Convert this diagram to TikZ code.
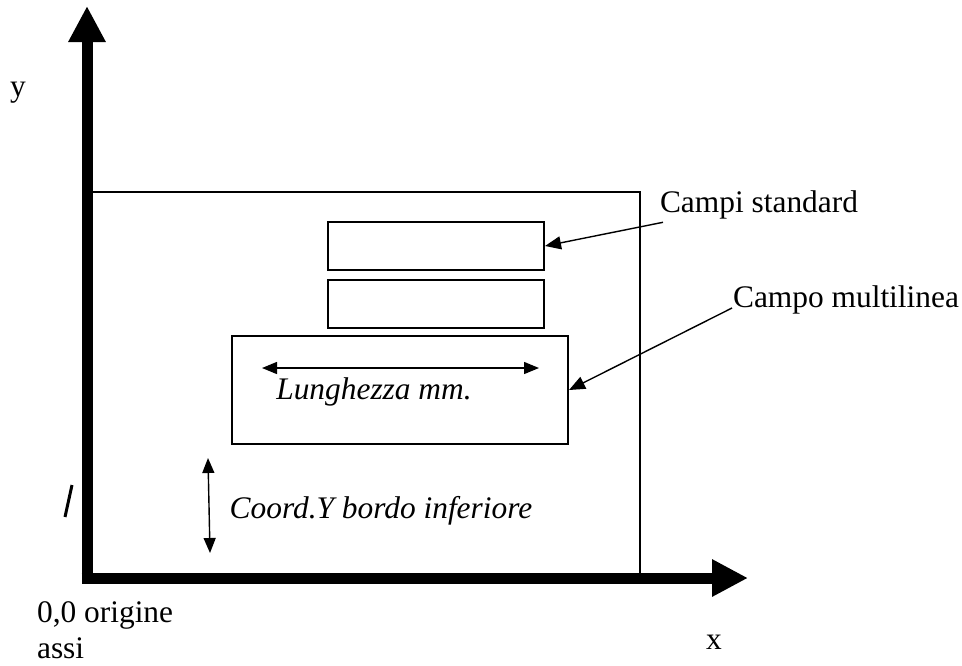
\documentclass[tikz,border=0pt]{standalone}
\usepackage{fontspec}
\setmainfont{Liberation Serif}
\usetikzlibrary{arrows.meta}

\begin{document}
\begin{tikzpicture}[x=0.5pt, y=-0.5pt, font=\fontsize{15.7}{18}\selectfont]
	\tikzstyle{asse} = [line width=5.5pt, -{Triangle[length=18pt, width=17.5pt]}]
	\tikzstyle{campo} = [draw=black, line width=1pt, inner sep=0pt]
	\tikzstyle{quota} = [line width=0.7pt, {Triangle[length=7.5pt, width=6pt]}-{Triangle[length=7.5pt, width=6pt]}]
	\tikzstyle{freccia} = [line width=0.7pt, -{Triangle[length=8pt, width=6.5pt]}]
	\useasboundingbox (0,0) rectangle (962,665);
	% assi
		\coordinate (o) at (87,578);
		\coordinate (ytip) at (87,6);
		\coordinate (xtip) at (748,578);
	\draw [asse] ([yshift=-2.75pt]o) -- (ytip);
	\draw [asse] ([xshift=-2.75pt]o) -- (xtip);
		\node (y) at (18,93) {y};
		\node (x) at (714,642) {x};
		\node [align=left, anchor=west] (orig) at (30,630) {0,0 origine\\assi};
	\draw [line width=1.5pt] (65,517) -- (72,485);
	% modulo e campi
		\node [campo, minimum width=274pt, minimum height=193pt] (mod) at (366,385) {};
		\node [campo, minimum width=108pt, minimum height=24pt] (std1) at (436,246) {};
		\node [campo, minimum width=108pt, minimum height=24pt] (std2) at (436,304) {};
		\node [campo, minimum width=168pt, minimum height=54pt] (ml) at (400,390) {};
	% quote
		\coordinate (l1) at (262,368);
		\coordinate (l2) at (539,368);
	\draw [quota] (l1) -- (l2);
		\node (lung) at (374,392) {\itshape Lunghezza mm.};
		\coordinate (b1) at (208,458);
		\coordinate (b2) at (210,553);
	\draw [quota] (b1) -- (b2);
		\node (coord) at (381,511) {\itshape Coord.Y bordo inferiore};
	% etichette
		\node (lstd) at (759,205) {Campi standard};
		\node (lml) at (846,300) {Campo multilinea};
	\draw [freccia] ([xshift=5pt, yshift=2pt]lstd.south west) -- (std1.east);
	\draw [freccia] ([xshift=3pt, yshift=-4pt]lml.west) -- (ml.east);
\end{tikzpicture}
\end{document}
